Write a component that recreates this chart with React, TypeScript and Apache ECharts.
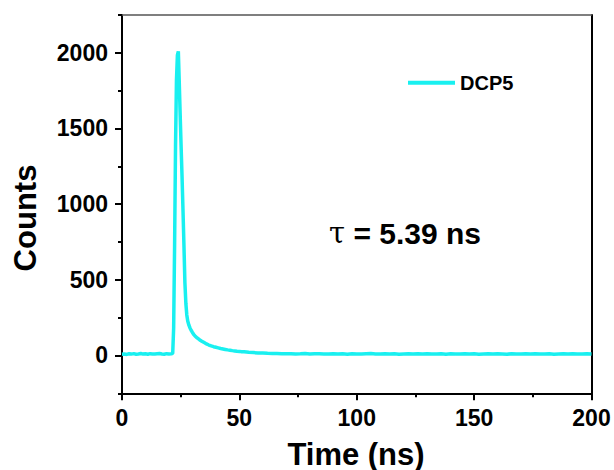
import React, { useEffect, useRef } from "react";
import * as echarts from "echarts";

const times = [
  0, 1, 2, 3, 4, 5, 6, 7, 8, 9, 10, 11, 12, 13, 14, 15, 16, 17, 18, 19, 20, 21, 21.6,
  22.0, 22.4, 22.8, 23.2, 23.6, 24.0, 24.4, 24.8, 25.2, 25.6, 26.0, 26.4, 26.8, 27.2, 27.6, 28.0,
  28.5, 29.0, 29.5, 30, 30.5, 31, 32, 33, 34, 35, 36, 37, 38, 39, 40, 41, 42, 43, 44, 45, 46, 47,
  48, 49, 50, 51, 52, 54, 56, 58, 60, 62, 64, 66, 68, 70,
  72, 74, 76, 78, 80, 82, 84, 86, 88, 90, 92, 94, 96, 98, 100, 102, 104, 106, 108, 110,
  112, 114, 116, 118, 120, 122, 124, 126, 128, 130, 132, 134, 136, 138, 140, 142, 144, 146, 148, 150,
  152, 154, 156, 158, 160, 162, 164, 166, 168, 170, 172, 174, 176, 178, 180, 182, 184, 186, 188, 190,
  192, 194, 196, 198, 200,
];

const counts = [
  8, 10, 7, 11, 9, 12, 8, 10, 13, 9, 11, 8, 12, 10, 9, 11, 13, 10, 8, 12, 10, 11, 14,
  180, 720, 1380, 1820, 1985, 2010, 1800, 1580, 1370, 1170, 950, 720, 480, 345, 268, 228,
  200, 180, 165, 152, 140, 131, 116, 104, 94, 85, 76, 69, 63, 58, 54, 50, 46, 43, 40, 37, 35, 32,
  30, 28, 27, 25, 24, 21, 19, 17, 16, 14, 13, 13, 12, 11,
  12, 10, 11, 13, 9, 11, 12, 10, 9, 12, 10, 11, 8, 12, 10, 9, 11, 13, 10, 9,
  11, 10, 12, 8, 10, 11, 9, 12, 10, 11, 9, 10, 12, 8, 11, 10, 9, 12, 10, 11,
  8, 10, 12, 9, 11, 10, 8, 12, 10, 9, 11, 10, 12, 9, 10, 11, 8, 10, 12, 9,
  11, 10, 9, 11, 10,
];

const seriesName = "DCP5";
const yMajorTicks = [0, 500, 1000, 1500, 2000];
const xTitle = "Time (ns)";
const yTitle = "Counts";
const annotation = " = 5.39 ns";

const FONT = 'Arial, "Liberation Sans", sans-serif';

export default function App() {
  const ref = useRef<HTMLDivElement>(null);
  useEffect(() => {
    if (!ref.current) return;
    const chart = echarts.init(ref.current, undefined, { renderer: "svg" });
    const data = times.map((t, i) => [t, counts[i]]);
    chart.setOption({
      animation: false,
      backgroundColor: "#fff",
      textStyle: { fontFamily: FONT },
      grid: { left: 122, right: 22.5, top: 15, bottom: 76.7 },
      legend: {
        data: [seriesName],
        left: 408,
        top: 72.7,
        padding: 0,
        icon: "rect",
        itemWidth: 47,
        itemHeight: 4,
        itemGap: 5,
        textStyle: { fontSize: 20, fontWeight: "bold", color: "#000", fontFamily: FONT },
      },
      xAxis: [
        {
          type: "value",
          min: 0,
          max: 200,
          interval: 50,
          axisLine: { show: true, onZero: false, lineStyle: { color: "#000", width: 2 } },
          axisTick: { show: true, inside: false, length: 7, lineStyle: { color: "#000", width: 2 } },
          minorTick: { show: true, splitNumber: 2, length: 4, lineStyle: { color: "#000", width: 2 } },
          splitLine: { show: false },
          axisLabel: { margin: 13, fontSize: 23, fontWeight: "bold", color: "#000", fontFamily: FONT },
        },
        {
          type: "value",
          position: "top",
          min: 0,
          max: 200,
          interval: 50,
          axisLine: { show: true, onZero: false, lineStyle: { color: "#555", width: 1.5 } },
          axisTick: { show: false },
          splitLine: { show: false },
          axisLabel: { show: false },
        },
      ],
      yAxis: [
        {
          type: "value",
          min: -250,
          max: 2250,
          interval: 250,
          axisLine: { show: true, onZero: false, lineStyle: { color: "#000", width: 2 } },
          axisTick: { show: true, inside: false, length: 4, lineStyle: { color: "#000", width: 2 } },
          splitLine: { show: false },
          axisLabel: {
            margin: 14,
            fontSize: 23,
            fontWeight: "bold",
            color: "#000",
            fontFamily: FONT,
            formatter: (v: number) => (yMajorTicks.indexOf(v) >= 0 ? String(v) : ""),
          },
        },
        {
          type: "value",
          position: "left",
          min: -250,
          max: 2250,
          interval: 250,
          axisLine: { show: false },
          axisTick: { show: true, inside: false, length: 7, customValues: yMajorTicks, lineStyle: { color: "#000", width: 2 } },
          splitLine: { show: false },
          axisLabel: { show: false },
        },
        {
          type: "value",
          position: "right",
          min: -250,
          max: 2250,
          interval: 250,
          axisLine: { show: true, onZero: false, lineStyle: { color: "#000", width: 2 } },
          axisTick: { show: false },
          splitLine: { show: false },
          axisLabel: { show: false },
        },
      ],
      series: [
        {
          name: seriesName,
          type: "line",
          data,
          xAxisIndex: 0,
          yAxisIndex: 0,
          showSymbol: false,
          symbol: "none",
          lineStyle: { color: "#19F0F0", width: 3.5 },
          itemStyle: { color: "#19F0F0" },
        },
      ],
      graphic: [
        {
          type: "text",
          x: 25,
          y: 218,
          rotation: Math.PI / 2,
          style: {
            text: yTitle,
            fontSize: 31,
            fontWeight: "bold",
            fontFamily: FONT,
            fill: "#000",
            align: "center",
            verticalAlign: "middle",
          },
        },
        {
          type: "text",
          x: 356,
          y: 454,
          style: {
            text: xTitle,
            fontSize: 31,
            fontWeight: "bold",
            fontFamily: FONT,
            fill: "#000",
            align: "center",
            verticalAlign: "middle",
          },
        },
        {
          type: "text",
          x: 405,
          y: 233,
          style: {
            text: "{t|τ}{b|" + annotation + "}",
            align: "center",
            verticalAlign: "middle",
            rich: {
              t: { fontSize: 29, fontFamily: '"DejaVu Serif", serif', fill: "#000" },
              b: { fontSize: 30, fontWeight: "bold", fontFamily: FONT, fill: "#000" },
            },
          },
        },
      ],
    });
    return () => chart.dispose();
  }, []);
  return <div ref={ref} style={{ width: 614, height: 470, position: "absolute", left: 0, top: 0 }} />;
}
